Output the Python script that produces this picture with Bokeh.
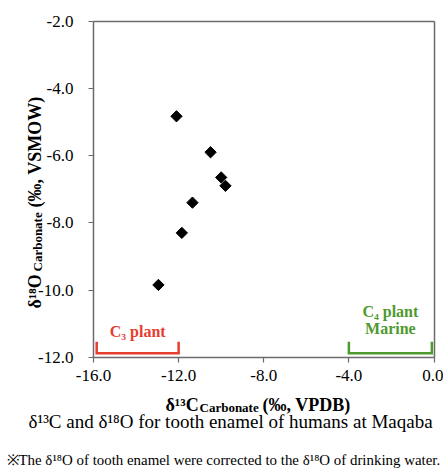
import numpy as np
from bokeh.plotting import figure
from bokeh.models import Range1d, FixedTicker, NumeralTickFormatter, Label, ColumnDataSource, LinearAxis
from bokeh.embed import file_html
from bokeh.resources import INLINE

# ---- data ----
d13c = [-12.1, -10.5, -10.0, -9.8, -11.35, -11.85, -12.95]
d18o = [-4.83, -5.9, -6.65, -6.9, -7.4, -8.3, -9.85]
c3_range = [-15.85, -12.0]
c4_range = [-4.0, -0.1]
x_ticks = [-16.0, -12.0, -8.0, -4.0, 0.0]
y_ticks = [-2.0, -4.0, -6.0, -8.0, -10.0, -12.0]
x_lim = (-16.0, 0.0)
y_lim = (-12.0, -2.0)

SERIF = "Liberation Serif"
RED = "#e63e31"
GREEN = "#4e9a2f"
GRAY = "#6b6b6b"

# ---- layout (pixels) ----
W, H = 443, 470
FL, FR, FT, FB = 93.0, 433.5, 20.7, 356.7
sx = (FR - FL) / (x_lim[1] - x_lim[0])
sy = (FB - FT) / (y_lim[1] - y_lim[0])
xr = Range1d(x_lim[0] - FL / sx, x_lim[1] + (W - FR) / sx)
yr = Range1d(y_lim[0] - (H - FB) / sy, y_lim[1] + FT / sy)

p = figure(width=W, height=H, output_backend="svg", toolbar_location=None,
           x_range=xr, y_range=yr, x_axis_location=None, y_axis_location=None,
           min_border=0)
p.grid.visible = False
p.outline_line_color = None
p.background_fill_color = "white"
p.border_fill_color = "white"

def style_axis(ax, ticks):
    ax.axis_line_color = GRAY
    ax.axis_line_width = 1.5
    ax.minor_tick_line_color = None
    if ticks is None:
        ax.major_tick_line_color = None
        ax.major_label_text_font_size = "0px"
        ax.major_label_text_color = None
        ax.ticker = FixedTicker(ticks=[])
    else:
        ax.ticker = FixedTicker(ticks=ticks)
        ax.major_tick_line_color = GRAY
        ax.major_tick_line_width = 1.2
        ax.major_tick_out = 5
        ax.major_tick_in = 0
        ax.major_label_text_font = SERIF
        ax.major_label_text_font_size = "17px"
        ax.major_label_text_color = "black"
        ax.formatter = NumeralTickFormatter(format="0.0")

xaxis = LinearAxis(fixed_location=y_lim[0], bounds=x_lim)
style_axis(xaxis, x_ticks)
xaxis.major_label_standoff = 8
p.add_layout(xaxis, "below")

yaxis = LinearAxis(fixed_location=x_lim[0], bounds=y_lim)
style_axis(yaxis, y_ticks)
yaxis.major_label_standoff = 15
p.add_layout(yaxis, "left")

top = LinearAxis(fixed_location=y_lim[1], bounds=x_lim)
style_axis(top, None)
p.add_layout(top, "above")

right = LinearAxis(fixed_location=x_lim[1], bounds=y_lim)
style_axis(right, None)
p.add_layout(right, "right")

# data points: black diamonds
src = ColumnDataSource(dict(x=d13c, y=d18o))
p.scatter("x", "y", source=src, marker="square", size=8, angle=np.pi / 4,
          fill_color="black", line_color="black")

# brackets
b_low, b_high = -11.88, -11.54
for rng, col in ((c3_range, RED), (c4_range, GREEN)):
    p.line([rng[0], rng[0], rng[1], rng[1]], [b_high, b_low, b_low, b_high],
           line_color=col, line_width=2.5, line_join="miter")

def lab(text, x, y, size, color="black", bold=False, align="left", units="data", angle=0.0):
    p.add_layout(Label(x=x, y=y, x_units=units, y_units=units, text=text,
                       text_font=SERIF, text_font_size=size, text_color=color,
                       text_font_style="bold" if bold else "normal",
                       text_align=align, text_baseline="alphabetic", angle=angle))

lab("C\u2083 plant", np.mean(c3_range), -11.23, "16px", RED, True, "center")
lab("C\u2084 plant", np.mean(c4_range), -10.645, "16px", GREEN, True, "center")
lab("Marine", np.mean(c4_range), -11.16, "16px", GREEN, True, "center")

# x-axis title
lab("\u03b4\u00b9\u00b3C", 165, 404, "18px", bold=True, units="canvas")
lab("Carbonate", 199, 407, "13px", bold=True, units="canvas")
lab("(\u2030, VPDB)", 262, 404, "18px", bold=True, units="canvas")

# y-axis title (rotated)
lab("\u03b4\u00b9\u2078O", 34, 308, "18px", bold=True, units="canvas", angle=np.pi / 2)
lab("Carbonate", 37, 271, "13px", bold=True, units="canvas", angle=np.pi / 2)
lab("(\u2030, VSMOW)", 34, 207, "18px", bold=True, units="canvas", angle=np.pi / 2)

# caption and footnote
lab("\u03b4\u00b9\u00b3C and \u03b4\u00b9\u2078O for tooth enamel of humans at Maqaba", 28, 421, "19px",
    units="canvas")
lab("\u203bThe \u03b4\u00b9\u2078O of tooth enamel were corrected to the \u03b4\u00b9\u2078O of drinking water.",
    6, 459, "14.9px", units="canvas")

open("out.html", "w").write(file_html(p, INLINE))
